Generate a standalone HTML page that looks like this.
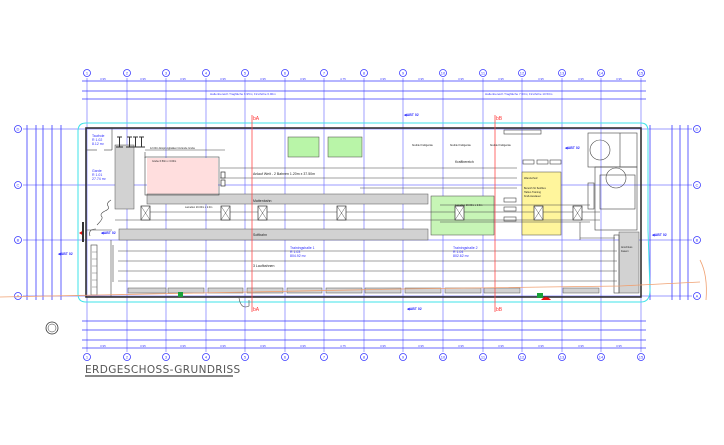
<!DOCTYPE html>
<html><head><meta charset="utf-8"><style>
html,body{margin:0;padding:0;background:#fff;width:724px;height:445px;overflow:hidden}
svg{display:block}
text{font-family:"Liberation Sans",sans-serif}
</style></head><body>
<svg width="724" height="445" viewBox="0 0 724 445" xmlns="http://www.w3.org/2000/svg">
<!-- grid verticals -->
<g stroke="#7a7aff" stroke-width="0.8" opacity="0.9">
<line x1="87" y1="78" x2="87" y2="352"/><line x1="127" y1="78" x2="127" y2="352"/><line x1="166" y1="78" x2="166" y2="352"/>
<line x1="206" y1="78" x2="206" y2="352"/><line x1="245" y1="78" x2="245" y2="352"/><line x1="285" y1="78" x2="285" y2="352"/>
<line x1="324" y1="78" x2="324" y2="352"/><line x1="364" y1="78" x2="364" y2="352"/><line x1="403" y1="78" x2="403" y2="352"/>
<line x1="443" y1="78" x2="443" y2="352"/><line x1="483" y1="78" x2="483" y2="352"/><line x1="522" y1="78" x2="522" y2="352"/>
<line x1="562" y1="78" x2="562" y2="352"/><line x1="601" y1="78" x2="601" y2="352"/><line x1="641" y1="78" x2="641" y2="352"/>
</g>
<!-- grid horizontals -->
<g stroke="#7a7aff" stroke-width="0.8">
<line x1="23" y1="129" x2="692" y2="129"/><line x1="23" y1="185" x2="692" y2="185"/>
<line x1="23" y1="240" x2="692" y2="240"/><line x1="23" y1="296" x2="692" y2="296"/>
</g>
<!-- top dims -->
<g stroke="#3a3aff" stroke-width="0.8">
<line x1="82" y1="81" x2="646" y2="81"/><line x1="82" y1="91" x2="646" y2="91"/><line x1="82" y1="99" x2="646" y2="99"/>
<line x1="82" y1="321" x2="646" y2="321"/><line x1="82" y1="330" x2="646" y2="330"/><line x1="82" y1="340" x2="646" y2="340"/><line x1="82" y1="348" x2="646" y2="348"/>
<line x1="27" y1="125" x2="27" y2="300"/><line x1="36" y1="125" x2="36" y2="300"/><line x1="43" y1="125" x2="43" y2="300"/><line x1="52" y1="125" x2="52" y2="300"/><line x1="61" y1="125" x2="61" y2="300"/>
<line x1="650" y1="125" x2="650" y2="300"/><line x1="672" y1="125" x2="672" y2="300"/><line x1="680" y1="125" x2="680" y2="300"/><line x1="688" y1="125" x2="688" y2="300"/>
</g>
<g font-size="3" fill="#3a3aff">
<text x="100" y="80">3.95</text><text x="140" y="80">3.95</text><text x="180" y="80">3.95</text><text x="220" y="80">3.95</text><text x="260" y="80">3.95</text><text x="300" y="80">3.95</text><text x="340" y="80">4.75</text><text x="380" y="80">3.95</text><text x="418" y="80">3.95</text><text x="458" y="80">3.95</text><text x="498" y="80">3.95</text><text x="538" y="80">3.95</text><text x="578" y="80">3.95</text><text x="616" y="80">3.95</text>
<text x="210" y="95">Hallenbereich Tragfläche 6.95m; Firsthöhe 6.90m</text>
<text x="485" y="95">Hallenbereich Tragfläche 7.50m; Firsthöhe 10.50m</text>
<text x="100" y="347">3.95</text><text x="140" y="347">3.95</text><text x="180" y="347">3.95</text><text x="220" y="347">3.95</text><text x="260" y="347">3.95</text><text x="300" y="347">3.95</text><text x="340" y="347">4.75</text><text x="380" y="347">3.95</text><text x="418" y="347">3.95</text><text x="458" y="347">3.95</text><text x="498" y="347">3.95</text><text x="538" y="347">3.95</text><text x="578" y="347">3.95</text><text x="616" y="347">3.95</text>
</g>
<!-- grid circles -->
<g fill="#fff" stroke="#3a3aff" stroke-width="0.8">
<circle cx="87" cy="73" r="3.5"/><circle cx="127" cy="73" r="3.5"/><circle cx="166" cy="73" r="3.5"/><circle cx="206" cy="73" r="3.5"/><circle cx="245" cy="73" r="3.5"/><circle cx="285" cy="73" r="3.5"/><circle cx="324" cy="73" r="3.5"/><circle cx="364" cy="73" r="3.5"/><circle cx="403" cy="73" r="3.5"/><circle cx="443" cy="73" r="3.5"/><circle cx="483" cy="73" r="3.5"/><circle cx="522" cy="73" r="3.5"/><circle cx="562" cy="73" r="3.5"/><circle cx="601" cy="73" r="3.5"/><circle cx="641" cy="73" r="3.5"/>
<circle cx="87" cy="357" r="3.5"/><circle cx="127" cy="357" r="3.5"/><circle cx="166" cy="357" r="3.5"/><circle cx="206" cy="357" r="3.5"/><circle cx="245" cy="357" r="3.5"/><circle cx="285" cy="357" r="3.5"/><circle cx="324" cy="357" r="3.5"/><circle cx="364" cy="357" r="3.5"/><circle cx="403" cy="357" r="3.5"/><circle cx="443" cy="357" r="3.5"/><circle cx="483" cy="357" r="3.5"/><circle cx="522" cy="357" r="3.5"/><circle cx="562" cy="357" r="3.5"/><circle cx="601" cy="357" r="3.5"/><circle cx="641" cy="357" r="3.5"/>
<circle cx="18" cy="129" r="3.5"/><circle cx="18" cy="185" r="3.5"/><circle cx="18" cy="240" r="3.5"/><circle cx="18" cy="296" r="3.5"/>
<circle cx="697" cy="129" r="3.5"/><circle cx="697" cy="185" r="3.5"/><circle cx="697" cy="240" r="3.5"/><circle cx="697" cy="296" r="3.5"/>
</g>
<g font-size="4" fill="#3a3aff" text-anchor="middle">
<text x="87" y="74.5">1</text><text x="127" y="74.5">2</text><text x="166" y="74.5">3</text><text x="206" y="74.5">4</text><text x="245" y="74.5">5</text><text x="285" y="74.5">6</text><text x="324" y="74.5">7</text><text x="364" y="74.5">8</text><text x="403" y="74.5">9</text><text x="443" y="74.5">10</text><text x="483" y="74.5">11</text><text x="522" y="74.5">12</text><text x="562" y="74.5">13</text><text x="601" y="74.5">14</text><text x="641" y="74.5">15</text>
<text x="87" y="358.5">1</text><text x="127" y="358.5">2</text><text x="166" y="358.5">3</text><text x="206" y="358.5">4</text><text x="245" y="358.5">5</text><text x="285" y="358.5">6</text><text x="324" y="358.5">7</text><text x="364" y="358.5">8</text><text x="403" y="358.5">9</text><text x="443" y="358.5">10</text><text x="483" y="358.5">11</text><text x="522" y="358.5">12</text><text x="562" y="358.5">13</text><text x="601" y="358.5">14</text><text x="641" y="358.5">15</text>
<text x="18" y="130.5">D</text><text x="18" y="186.5">C</text><text x="18" y="241.5">B</text><text x="18" y="297.5">A</text>
<text x="697" y="130.5">D</text><text x="697" y="186.5">C</text><text x="697" y="241.5">B</text><text x="697" y="297.5">A</text>
</g>
<!-- cyan outline -->
<path d="M78 131 Q78 123 86 123 L641 123 Q648 123 648 131 L648 230 L650 290 Q650 302 641 302 L86 302 Q78 302 78 294 Z" fill="none" stroke="#3fe3e8" stroke-width="1"/>
<!-- colored fills -->
<rect x="147" y="158" width="71" height="36" fill="#ffdede"/>
<rect x="288" y="137" width="31" height="20" fill="#b9f5a8" stroke="#444" stroke-width="0.5"/>
<rect x="328" y="137" width="34" height="20" fill="#b9f5a8" stroke="#444" stroke-width="0.5"/>
<rect x="431" y="196" width="63" height="39" fill="#c7f5b6" stroke="#444" stroke-width="0.5"/>
<rect x="522" y="172" width="39" height="63" fill="#fff59c" stroke="#444" stroke-width="0.5"/>
<!-- gray bars -->
<g fill="#d2d2d2" stroke="#555" stroke-width="0.5">
<rect x="115" y="145" width="19" height="64"/>
<rect x="147" y="194" width="281" height="10"/>
<rect x="119" y="229" width="309" height="11"/>
<rect x="619" y="232" width="20" height="61"/>
<rect x="128" y="288" width="38" height="5"/><rect x="168" y="288" width="36" height="5"/><rect x="208" y="288" width="35" height="5"/><rect x="247" y="288" width="36" height="5"/><rect x="287" y="288" width="35" height="5"/><rect x="326" y="288" width="36" height="5"/><rect x="365" y="288" width="36" height="5"/><rect x="405" y="288" width="36" height="5"/><rect x="445" y="288" width="36" height="5"/><rect x="484" y="288" width="36" height="5"/><rect x="563" y="288" width="36" height="5"/>
</g>
<!-- building walls -->
<rect x="86" y="128" width="555" height="169" fill="none" stroke="#333" stroke-width="1.6"/>
<g stroke="#444" stroke-width="0.6" fill="none">
<line x1="112" y1="128" x2="112" y2="150"/><line x1="86" y1="150" x2="97" y2="150"/><line x1="104" y1="150" x2="112" y2="150"/>
<line x1="86" y1="230" x2="112" y2="230"/>
<rect x="145" y="157" width="74" height="38"/>
<line x1="145" y1="150" x2="225" y2="150"/><line x1="145" y1="152" x2="145" y2="158"/>
<line x1="220" y1="168" x2="517" y2="168"/><line x1="220" y1="178" x2="517" y2="178"/>
<line x1="360" y1="188" x2="517" y2="188"/>
<line x1="118" y1="251" x2="617" y2="251"/><line x1="118" y1="261" x2="617" y2="261"/><line x1="118" y1="271" x2="617" y2="271"/><line x1="118" y1="281" x2="617" y2="281"/>
<line x1="143" y1="212" x2="600" y2="212"/>
<line x1="115" y1="220" x2="600" y2="220"/>
<line x1="440" y1="205" x2="590" y2="205"/><line x1="440" y1="222" x2="590" y2="222"/>
<rect x="588" y="133" width="49" height="34"/><rect x="595" y="167" width="42" height="63"/><rect x="600" y="175" width="35" height="34"/>
<line x1="620" y1="133" x2="620" y2="167"/>
<circle cx="600" cy="150" r="10"/><circle cx="616" cy="178" r="10"/>
<rect x="588" y="183" width="6" height="26"/>
<rect x="504" y="130" width="37" height="4"/>
<rect x="523" y="160" width="11" height="4"/><rect x="537" y="160" width="11" height="4"/><rect x="550" y="160" width="11" height="4"/>
<rect x="504" y="198" width="12" height="4"/><rect x="504" y="207" width="12" height="4"/><rect x="504" y="217" width="12" height="4"/>
<line x1="580" y1="238" x2="615" y2="238"/><line x1="580" y1="222" x2="580" y2="240"/>
<rect x="614" y="235" width="5" height="58"/>
<line x1="111" y1="240" x2="111" y2="297"/>
<rect x="91" y="245" width="6" height="50"/>
<line x1="113" y1="245" x2="113" y2="282"/>
<path d="M97 225 q6 -6 5 -8 q-3 -3 3 -6 q5 -2 3 -5 q-2 -3 3 -6"/>
<path d="M90 236 q-2 -7 6 -7"/>
<path d="M239 298 q2 12 10 8 l0 -6"/>
</g>
<!-- ladder -->
<g stroke="#555" stroke-width="0.4">
<line x1="92" y1="252" x2="97" y2="252"/><line x1="92" y1="259" x2="97" y2="259"/><line x1="92" y1="266" x2="97" y2="266"/><line x1="92" y1="273" x2="97" y2="273"/><line x1="92" y1="280" x2="97" y2="280"/><line x1="92" y1="287" x2="97" y2="287"/>
</g>
<!-- T stands -->
<g stroke="#333" stroke-width="1" fill="none">
<path d="M117 137h5M119.5 137v10M116 147h7"/><path d="M127 137h5M129.5 137v10M126 147h7"/><path d="M133 137h5M135.5 137v10M132 147h7"/><path d="M139 137h5M141.5 137v10M138 147h7"/>
</g>
<!-- goals -->
<g stroke="#333" stroke-width="0.7" fill="#fff">
<rect x="141" y="206" width="9" height="14"/><rect x="221" y="206" width="9" height="14"/><rect x="258" y="206" width="9" height="14"/><rect x="337" y="206" width="9" height="14"/><rect x="455" y="206" width="9" height="14"/><rect x="534" y="206" width="9" height="14"/><rect x="573" y="206" width="9" height="14"/>
<rect x="221" y="172" width="4" height="6"/><rect x="221" y="180" width="4" height="6"/>
</g>
<g stroke="#333" stroke-width="0.4">
<path d="M141 206l9 14M150 206l-9 14M221 206l9 14M230 206l-9 14M258 206l9 14M267 206l-9 14M337 206l9 14M346 206l-9 14M455 206l9 14M464 206l-9 14M534 206l9 14M543 206l-9 14M573 206l9 14M582 206l-9 14"/>
</g>
<!-- red section lines -->
<g stroke="#ff4a4a" stroke-width="0.8">
<line x1="252" y1="115" x2="252" y2="312"/><line x1="495" y1="115" x2="495" y2="312"/>
</g>
<g font-size="5" fill="#ff3333"><text x="253" y="120">bA</text><text x="496" y="120">bB</text><text x="253" y="311">bA</text><text x="496" y="311">bB</text></g>
<!-- orange line -->
<polyline points="0,297 200,293 400,289 620,286 700,282" fill="none" stroke="#f0a070" stroke-width="0.8"/>
<path d="M700 260 q8 15 6 40" fill="none" stroke="#f0a070" stroke-width="0.8"/>
<!-- door markers -->
<path d="M79 233 l5 -3 v6 z" fill="#e81010"/>
<rect x="82" y="222" width="2" height="20" fill="#333"/>
<path d="M541 300 q5 -6 10 0 z" fill="#e81010"/>
<rect x="537" y="293" width="6" height="5" fill="#1aa03a"/>
<rect x="178" y="292" width="5" height="5" fill="#1aa03a"/>
<!-- texts -->
<g font-size="3.5" fill="#2a2aff">
<text x="92" y="137">Taufrole</text><text x="92" y="141">R 1.02</text><text x="92" y="145">8.12 m²</text>
<text x="92" y="172">Garde</text><text x="92" y="176">R 1.01</text><text x="92" y="180">27.74 m²</text>
<text x="290" y="249">Trainingshalle 1</text><text x="290" y="253">R 1.03</text><text x="290" y="257">804.92 m²</text>
<text x="453" y="249">Trainingshalle 2</text><text x="453" y="253">R 1.04</text><text x="453" y="257">802.62 m²</text>
<text x="404" y="116" font-weight="bold">◀ABT 02</text><text x="565" y="149" font-weight="bold">◀ABT 02</text><text x="101" y="234" font-weight="bold">◀ABT 02</text><text x="58" y="255" font-weight="bold">◀ABT 02</text><text x="652" y="236" font-weight="bold">◀ABT 02</text><text x="407" y="310" font-weight="bold">◀ABT 02</text>
</g>
<g font-size="3.5" fill="#222">
<text x="253" y="175">Anlauf Weit - 2 Bahnen 1.20m x 37.50m</text>
<text x="253" y="202">Mattenbahn</text>
<text x="253" y="236">Softbahn</text>
<text x="253" y="267">3 Laufbahnen</text>
<text x="455" y="163">Kraftbereich</text>
<text x="524" y="179" font-size="2.5">Wandschutz</text>
<text x="524" y="189" font-size="2.5">Bereich für flexibles</text><text x="524" y="193" font-size="2.5">Hallen-Training</text><text x="524" y="197" font-size="2.5">Kraft-Ausdauer</text>
<text x="621" y="248" font-size="2.5">Anschluss</text><text x="621" y="252" font-size="2.5">Fasern</text>
<text x="412" y="146" font-size="2.5">flexible Kraftgeräte</text><text x="450" y="146" font-size="2.5">flexible Kraftgeräte</text><text x="490" y="146" font-size="2.5">flexible Kraftgeräte</text>
<text x="152" y="162" font-size="2.5">Grube 6.50m x 3.00m</text><text x="150" y="149" font-size="2.5">12.00m Absprungbalken bis Ende Grube</text>
<text x="455" y="206" font-size="2.5">Lamellen 20.00m x 2.0m</text><text x="185" y="208" font-size="2.5">Lamellen 20.00m x 2.0m</text>
</g>
<!-- section circle symbol -->
<circle cx="52" cy="328" r="6" fill="none" stroke="#333" stroke-width="0.8"/>
<circle cx="52" cy="328" r="4" fill="none" stroke="#333" stroke-width="0.5"/>
<!-- title -->
<text x="85" y="373" font-size="10.5" fill="#555" letter-spacing="0.4" style="font-family:'DejaVu Sans',sans-serif">ERDGESCHOSS-GRUNDRISS</text>
<rect x="85" y="375" width="148" height="2" fill="#888"/>
</svg>
</body></html>
